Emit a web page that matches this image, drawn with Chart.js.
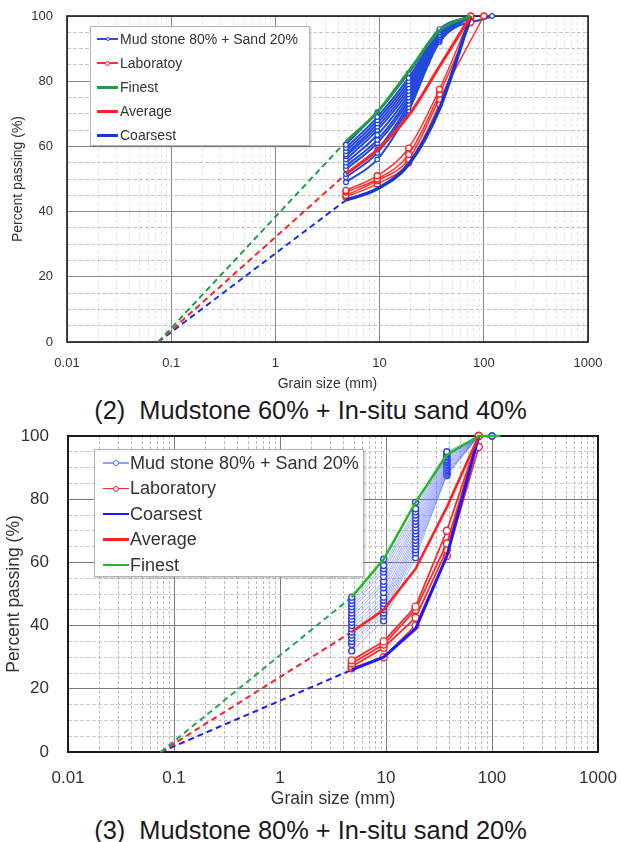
<!DOCTYPE html>
<html><head><meta charset="utf-8">
<script src="https://cdn.jsdelivr.net/npm/chart.js@4.4.1/dist/chart.umd.min.js"></script>
<style>
body{margin:0;background:#fff;width:621px;height:842px;position:relative;overflow:hidden;font-family:"Liberation Sans",Arial,sans-serif;}
.wrap{position:absolute;left:0;width:621px;}
.caption{position:absolute;left:0;width:621px;text-align:center;font-size:25.4px;line-height:28px;color:#1a1a1a;white-space:pre;}
.legend{position:absolute;background:#fff;border:1px solid #b5b5b5;box-shadow:1px 1px 2px rgba(0,0,0,0.25);box-sizing:border-box;}
.item{position:absolute;left:0;display:flex;align-items:center;color:#333;white-space:nowrap;}
.sw{position:relative;flex:none;}
.sw .ln{position:absolute;left:0;right:0;top:50%;}
.sw .mk{position:absolute;left:50%;top:50%;border-radius:50%;background:#fff;box-sizing:border-box;}
</style>
</head><body>
<div class="wrap" style="top:0;height:395px"><canvas id="c1" width="621" height="395" style="width:621px;height:395px"></canvas><div class="legend" id="lg1"></div></div>
<div class="caption" style="top:396px">(2)  Mudstone 60% + In-situ sand 40%</div>
<div class="wrap" style="top:420px;height:390px"><canvas id="c2" width="621" height="390" style="width:621px;height:390px"></canvas><div class="legend" id="lg2"></div></div>
<div class="caption" style="top:816px">(3)  Mudstone 80% + In-situ sand 20%</div>
<script>
// ---------- data ----------
const sieveSizes = [4.75, 9.5, 19, 37.5, 75, 100, 120];   // mm
const finesSize = 0.075;                                   // mm (dashed extension start, 0 %)
const xTickLabels = [0.01, 0.1, 1, 10, 100, 1000];
const yTickLabels = [0, 20, 40, 60, 80, 100];
const xMinorMultipliers = [2, 3, 4, 5, 6, 7, 8, 9];
const yGridStep = 5;

// (2) Mudstone 60% + In-situ sand 40%
const finest1   = [61.5, 70.5, 83, 95.5, 100, null, null];
const average1  = [51.5, 59, 69.5, 84.5, 100, null, null];
const coarsest1 = [43.5, 47, 54.5, 71.5, 100, null, null];
const lab1 = [
  [46.5, 51, 59.5, 77.5, 100, null, null],
  [46, 50, 57.5, 76, 98, null, null],
  [45, 49.5, 56, 74.5, null, 100, null],
  [44.5, 48.5, 55, 73, 99.5, null, null]
];
const mud1 = [
  [60.5, 70.5, 82.5, 96, 100, null, null],
  [59.5, 69, 81, 95.5, 100, null, null],
  [58.5, 68, 80, 95, 100, null, null],
  [57.5, 67, 79, 94.5, 100, null, null],
  [57, 66, 78, 94, 100, null, null],
  [56, 65, 77, 94, 100, null, null],
  [55, 63.5, 76, 93.5, 100, null, null],
  [54, 62, 75, 93, 100, null, null],
  [53, 61, 74, 93, 100, null, null],
  [51.5, 59, 73, 92.5, 100, null, null],
  [50.5, 58, 72, 92, 100, null, null],
  [49, 56, 71, 92, null, null, 100]
];

// (3) Mudstone 80% + In-situ sand 20%
const finest2   = [49, 61, 79, 94, 100, null, 100];
const average2  = [38, 45, 58, 77.5, 100, null, null];
const coarsest2 = [26, 30, 39, 62, 100, null, null];
const lab2 = [
  [29, 35, 46, 70, 100, null, null],
  [28, 34, 45, 66, 100, null, null],
  [27, 33, 42.5, 64, 100, null, null],
  [26.5, 30, 40, 62, 96.5, null, null]
];
const mud2 = [
  [49, 61, 79, 95, 100, 100, null],
  [48, 59, 77, 94.5, 100, null, null],
  [47, 58, 76, 94, 100, null, null],
  [46, 57, 75, 93.5, 100, 100, null],
  [45, 55.5, 74, 93, 100, null, null],
  [44, 54, 73, 92.5, 100, null, null],
  [43, 53, 72, 92, 100, null, null],
  [42, 52, 71, 91.5, 100, null, null],
  [41, 50.5, 70, 91, 100, null, null],
  [40, 49, 69, 90.5, 100, null, null],
  [39, 48, 68, 90, 100, null, null],
  [38, 47, 67, 89.5, 100, null, null],
  [37, 46, 66, 89, 100, null, null],
  [36, 45, 65, 88.5, 100, null, null],
  [35, 44, 64, 88, 100, null, null],
  [34, 43, 63, 87.5, 100, null, null],
  [32, 41.5, 61.5, 88, 100, null, null]
];

const legendLabels1 = ['Mud stone 80% + Sand 20%', 'Laboratoy', 'Finest', 'Average', 'Coarsest'];
const legendLabels2 = ['Mud stone 80% + Sand 20%', 'Laboratory', 'Coarsest', 'Average', 'Finest'];

// ---------- helpers ----------
const FONT = '"Liberation Sans", Arial, sans-serif';
const TXT = '#333';
const xGrid = [];
for (let i = 0; i < xTickLabels.length; i++) {
  xGrid.push(xTickLabels[i]);
  if (i < xTickLabels.length - 1) xMinorMultipliers.forEach(m => xGrid.push(+(m * xTickLabels[i]).toPrecision(6)));
}
function isDecade(v) { return xTickLabels.some(t => Math.abs(t - v) < t * 1e-6); }
function decadeLabel(v) { const t = xTickLabels.find(t => Math.abs(t - v) < t * 1e-6); return t === undefined ? '' : String(t); }
function pts(values) {
  const out = [];
  values.forEach((v, i) => { if (v !== null && v !== undefined) out.push({x: sieveSizes[i], y: v}); });
  return out;
}
function series(values, st) {
  return {
    data: pts(values), borderColor: st.color, borderWidth: st.width, order: st.order,
    pointRadius: st.radius || 0, pointHoverRadius: 0,
    pointBackgroundColor: st.pointBg || st.color, pointBorderColor: st.pointBorder || st.color,
    pointBorderWidth: st.pointBorderWidth || 1, borderDash: [],
    tension: st.tension || 0, cubicInterpolationMode: st.tension ? 'monotone' : 'default',
    fill: false, clip: false
  };
}
function extension(values, color, width, dash, order) {
  return {
    data: [{x: finesSize, y: 0}, {x: sieveSizes[0], y: values[0]}],
    borderColor: color, borderWidth: width, borderDash: dash, pointRadius: 0, pointHoverRadius: 0,
    fill: false, clip: false, order: order, tension: 0
  };
}
const framePlugin = {
  id: 'frame',
  beforeDatasetsDraw(chart, args, opts) {
    const {ctx, chartArea: a} = chart;
    ctx.save(); ctx.strokeStyle = opts.color; ctx.lineWidth = opts.width;
    ctx.strokeRect(a.left, a.top, a.right - a.left, a.bottom - a.top);
    ctx.restore();
  }
};
function makeOptions(L) {
  return {
    responsive: false, animation: false, events: [],
    layout: {padding: {top: L.top, right: L.right, bottom: 0, left: 0}},
    plugins: {legend: {display: false}, tooltip: {enabled: false}, frame: {color: L.frameColor, width: L.frameWidth}},
    scales: {
      x: {
        type: 'logarithmic', min: xTickLabels[0], max: xTickLabels[xTickLabels.length - 1],
        afterBuildTicks: s => { s.ticks = xGrid.map(v => ({value: v})); },
        afterFit: s => { s.height = L.xH; },
        ticks: {autoSkip: false, maxRotation: 0, minRotation: 0, padding: 0,
          font: {family: FONT, size: L.tick}, color: TXT, callback: v => decadeLabel(v)},
        grid: {drawTicks: true, tickLength: L.xPad, tickColor: 'rgba(0,0,0,0)', lineWidth: 1,
          color: c => (c.tick && !isDecade(c.tick.value)) ? L.minorV : L.major},
        border: {display: false, dash: c => (c.tick && !isDecade(c.tick.value)) ? L.dashV : []},
        title: {display: true, text: 'Grain size (mm)', font: {family: FONT, size: L.title}, color: TXT,
          padding: {top: 0, bottom: L.xTitlePad}}
      },
      y: {
        type: 'linear', min: yTickLabels[0], max: yTickLabels[yTickLabels.length - 1],
        afterFit: s => { s.width = L.yW; },
        ticks: {stepSize: yGridStep, autoSkip: false, padding: 0,
          font: {family: FONT, size: L.tick}, color: TXT,
          callback: v => yTickLabels.includes(v) ? String(v) : ''},
        grid: {drawTicks: true, tickLength: L.yPad, tickColor: 'rgba(0,0,0,0)', lineWidth: 1,
          color: c => (c.tick && !yTickLabels.includes(c.tick.value)) ? L.minorH : L.major},
        border: {display: false, dash: c => (c.tick && !yTickLabels.includes(c.tick.value)) ? L.dashH : []},
        title: {display: true, text: 'Percent passing (%)', font: {family: FONT, size: L.title}, color: TXT,
          padding: {top: L.yTitlePad, bottom: 0}}
      }
    }
  };
}
function buildLegend(id, labels, styles, box) {
  const el = document.getElementById(id);
  Object.assign(el.style, {left: box.left + 'px', top: box.top + 'px', width: box.width + 'px', height: box.height + 'px'});
  labels.forEach((lab, i) => {
    const st = styles[i];
    const it = document.createElement('div');
    it.className = 'item';
    Object.assign(it.style, {top: (box.y0 + i * box.dy - box.rowH / 2) + 'px', height: box.rowH + 'px', left: box.swX + 'px', fontSize: box.font + 'px'});
    const sw = document.createElement('div');
    sw.className = 'sw';
    Object.assign(sw.style, {width: box.swW + 'px', height: box.rowH + 'px', marginRight: box.gap + 'px'});
    const ln = document.createElement('div');
    ln.className = 'ln';
    Object.assign(ln.style, {height: st.w + 'px', marginTop: (-st.w / 2) + 'px', background: st.c});
    sw.appendChild(ln);
    if (st.m) {
      const mk = document.createElement('div');
      mk.className = 'mk';
      Object.assign(mk.style, {width: st.m + 'px', height: st.m + 'px', marginLeft: (-st.m / 2) + 'px', marginTop: (-st.m / 2) + 'px', border: '1px solid ' + st.mc});
      sw.appendChild(mk);
    }
    it.appendChild(sw);
    const tx = document.createElement('span');
    tx.textContent = lab;
    it.appendChild(tx);
    el.appendChild(it);
  });
}

// ---------- chart (2) ----------
const C1 = {green: '#1f9e48', red: '#ff2222', blue: '#1238d6', sample: '#2448dc'};
const ds1 = [];
ds1.push(series(finest1, {color: C1.green, width: 3, order: 0, tension: 0.4}));
ds1.push(series(average1, {color: C1.red, width: 3, order: 1, tension: 0.4}));
ds1.push(series(coarsest1, {color: C1.blue, width: 3.5, order: 2, tension: 0.4}));
lab1.forEach(v => ds1.push(series(v, {color: '#ff3030', width: 1.5, order: 3, radius: 3, pointBg: '#fff', pointBorder: '#ff2020', pointBorderWidth: 1.3, tension: 0.4})));
mud1.forEach(v => ds1.push(series(v, {color: C1.sample, width: 2, order: 4, radius: 2.3, pointBg: '#fff', pointBorder: '#1f45e0', pointBorderWidth: 1.2, tension: 0.4})));
ds1.push(extension(finest1, C1.green, 2, [6, 4], 5));
ds1.push(extension(average1, C1.red, 2, [6, 4], 5));
ds1.push(extension(coarsest1, C1.blue, 2, [6, 4], 5));

new Chart(document.getElementById('c1'), {
  type: 'line', data: {datasets: ds1}, plugins: [framePlugin],
  options: makeOptions({top: 16, right: 33, xH: 53, yW: 67, xPad: 14, yPad: 14, tick: 13, title: 14,
    xTitlePad: 2, yTitlePad: 10, major: '#8a8a8a', minorH: '#c4c4c4', minorV: '#e4e4e4',
    dashH: [4, 2], dashV: [3, 3], frameColor: '#1a1a1a', frameWidth: 1.6})
});
buildLegend('lg1', legendLabels1, [
  {c: '#2a4fe0', w: 1.3, m: 4, mc: '#2a4fe0'},
  {c: '#ff3030', w: 1.3, m: 5, mc: '#ff2020'},
  {c: C1.green, w: 3, m: 0},
  {c: C1.red, w: 3, m: 0},
  {c: C1.blue, w: 3, m: 0}
], {left: 90, top: 26, width: 220, height: 120, y0: 12, dy: 24, rowH: 20, swX: 6, swW: 21, gap: 2, font: 14});

// ---------- chart (3) ----------
const C2 = {green: '#22bb22', red: '#ff1f1f', blue: '#1a1aff', sample: 'rgba(95,115,255,0.55)'};
const ds2 = [];
ds2.push(series(finest2, {color: C2.green, width: 2.5, order: 0}));
ds2.push(series(average2, {color: C2.red, width: 2.5, order: 1}));
ds2.push(series(coarsest2, {color: C2.blue, width: 3, order: 2}));
lab2.forEach(v => ds2.push(series(v, {color: '#ff2a2a', width: 1.8, order: 3, radius: 3.5, pointBg: '#fff', pointBorder: '#ff2020', pointBorderWidth: 1.4})));
mud2.forEach(v => ds2.push(series(v, {color: C2.sample, width: 1, order: 4, radius: 3, pointBg: '#fff', pointBorder: '#2b3df0', pointBorderWidth: 1.4})));
ds2.push(extension(finest2, '#22a855', 2, [6, 4], 5));
ds2.push(extension(average2, C2.red, 2, [6, 4], 5));
ds2.push(extension(coarsest2, C2.blue, 2, [6, 4], 5));

new Chart(document.getElementById('c2'), {
  type: 'line', data: {datasets: ds2}, plugins: [framePlugin],
  options: makeOptions({top: 16, right: 23, xH: 58, yW: 68, xPad: 16, yPad: 19, tick: 17, title: 17.5,
    xTitlePad: 0, yTitlePad: 4, major: '#7a7a7a', minorH: '#c8c8c8', minorV: '#bdbdbd',
    dashH: [4, 2], dashV: [3, 2], frameColor: '#1a1a1a', frameWidth: 2})
});
buildLegend('lg2', legendLabels2, [
  {c: 'rgba(95,115,255,0.7)', w: 1.3, m: 6, mc: '#5a6cff'},
  {c: '#ff2a2a', w: 1.8, m: 6, mc: '#ff2020'},
  {c: C2.blue, w: 2.5, m: 0},
  {c: C2.red, w: 2.5, m: 0},
  {c: C2.green, w: 2.5, m: 0}
], {left: 94, top: 29, width: 270, height: 128, y0: 13, dy: 25.5, rowH: 22, swX: 8, swW: 26, gap: 1, font: 18});
</script>
</body></html>
